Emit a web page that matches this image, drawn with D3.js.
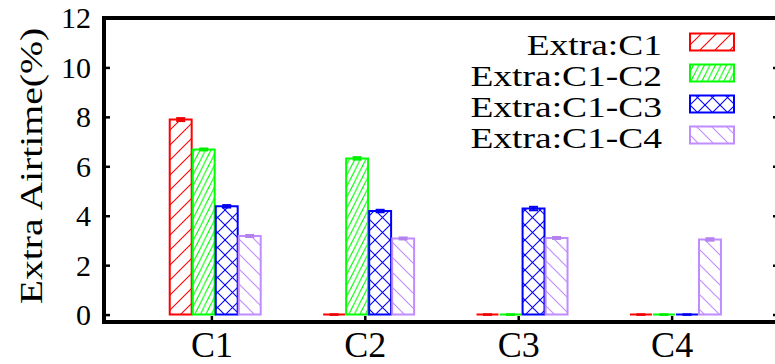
<!DOCTYPE html>
<html>
<head>
<meta charset="utf-8">
<script src="https://cdn.jsdelivr.net/npm/d3@7"></script>
<style>
  html, body { margin: 0; padding: 0; background: #fff; }
  svg { display: block; }
  text { font-family: "Liberation Serif", "Times New Roman", serif; fill: #000; }
</style>
</head>
<body>
<svg id="chart" width="775" height="364"></svg>
<script>
// Categories on the x axis and the four series (bar height + error half-width)
const categories = ["C1", "C2", "C3", "C4"];
const seriesNames = ["Extra:C1", "Extra:C1-C2", "Extra:C1-C3", "Extra:C1-C4"];
const extraC1     = [7.89, 0, 0, 0];
const extraC1C2   = [6.68, 6.32, 0, 0];
const extraC1C3   = [4.38, 4.19, 4.29, 0];
const extraC1C4   = [3.18, 3.08, 3.10, 3.04];
const errC1       = [0.06, 0.01, 0.01, 0.01];
const errC1C2     = [0.04, 0.05, 0.01, 0.01];
const errC1C3     = [0.05, 0.05, 0.07, 0.01];
const errC1C4     = [0.04, 0.04, 0.04, 0.05];
const yTicks      = [0, 2, 4, 6, 8, 10, 12];

const seriesValues = [extraC1, extraC1C2, extraC1C3, extraC1C4];
const seriesErrors = [errC1, errC1C2, errC1C3, errC1C4];
const colors = ["#ff0000", "#00ff00", "#0000ff", "#c08cff"];
const patternIds = ["pat-fwd", "pat-steep", "pat-cross", "pat-back"];

const svg = d3.select("#chart");
const frame = { left: 104, right: 779, top: 18, bottom: 322 };

const x = d3.scaleLinear().domain([-0.7, 3.7]).range([frame.left, frame.right]);
const y = d3.scaleLinear().domain([-0.3, 12]).range([frame.bottom, frame.top]);

// Hatch patterns used as bar fills
const defs = svg.append("defs");
function hatch(id, color, w, h, lines) {
  const p = defs.append("pattern").attr("id", id)
    .attr("patternUnits", "userSpaceOnUse").attr("width", w).attr("height", h);
  p.append("rect").attr("width", w).attr("height", h).attr("fill", "#fff");
  lines.forEach(l => p.append("line")
    .attr("x1", l[0]).attr("y1", l[1]).attr("x2", l[2]).attr("y2", l[3])
    .attr("stroke", color).attr("stroke-width", 1.1));
}
hatch("pat-fwd", colors[0], 15, 15, [[0, 15, 15, 0], [-1, 1, 1, -1], [14, 16, 16, 14]]);
hatch("pat-steep", colors[1], 5.5, 11, [[0, 11, 5.5, 0], [-0.5, 1, 0.5, -1], [5, 12, 6, 10]]);
hatch("pat-cross", colors[2], 15, 15, [[0, 15, 15, 0], [0, 0, 15, 15], [-1, 1, 1, -1], [14, 16, 16, 14], [-1, 14, 1, 16], [14, -1, 16, 1]]);
hatch("pat-back", colors[3], 15, 15, [[0, 0, 15, 15], [-1, 14, 1, 16], [14, -1, 16, 1]]);

// Bar geometry in data units: each series offset within its cluster
const barStep = 0.15;
const barWidth = 0.143;
const firstOffset = -0.2;

const bars = [];
seriesValues.forEach((vals, s) => {
  vals.forEach((v, i) => {
    bars.push({ s, i, v, e: seriesErrors[s][i], cx: i + firstOffset + s * barStep });
  });
});

const gBars = svg.append("g");
// hatched fill
gBars.selectAll("rect").data(bars).join("rect")
  .attr("x", d => x(d.cx - barWidth / 2))
  .attr("width", d => x(d.cx + barWidth / 2) - x(d.cx - barWidth / 2))
  .attr("y", d => y(d.v))
  .attr("height", d => y(0) - y(d.v))
  .attr("fill", d => `url(#${patternIds[d.s]})`);
// outline as a path so zero-height bars still show as a line
gBars.selectAll("path").data(bars).join("path")
  .attr("d", d => {
    const x0 = x(d.cx - barWidth / 2), x1 = x(d.cx + barWidth / 2);
    const yb = y(0), yt = y(d.v);
    return `M${x0},${yb}V${yt}H${x1}V${yb}Z`;
  })
  .attr("fill", "none")
  .attr("stroke", d => colors[d.s])
  .attr("stroke-width", 2);

// Error bars
const capHalf = 4.5;
const gErr = svg.append("g");
bars.forEach(d => {
  const cx = x(d.cx);
  const c = d3.color(colors[d.s]).darker(0.2);
  gErr.append("line").attr("x1", cx).attr("x2", cx)
    .attr("y1", y(d.v - d.e)).attr("y2", y(d.v + d.e))
    .attr("stroke", c).attr("stroke-width", 2);
  [d.v - d.e, d.v + d.e].forEach(t => gErr.append("line")
    .attr("x1", cx - capHalf).attr("x2", cx + capHalf)
    .attr("y1", y(t)).attr("y2", y(t))
    .attr("stroke", c).attr("stroke-width", 2));
});

// Axes: ticks pointing inward
const yAxis = svg.append("g").attr("transform", `translate(${frame.left},0)`)
  .call(d3.axisLeft(y).tickValues(yTicks).tickSize(-6).tickPadding(13).tickFormat(d3.format("d")));
yAxis.select(".domain").remove();
yAxis.selectAll(".tick line").attr("stroke", "#000").attr("stroke-width", 2.5);
yAxis.selectAll(".tick text").attr("font-size", 30).attr("font-family", "Liberation Serif").attr("dy", "0.33em");

const yAxisR = svg.append("g").attr("transform", `translate(${frame.right},0)`)
  .call(d3.axisRight(y).tickValues(yTicks).tickSize(-6).tickFormat(""));
yAxisR.select(".domain").remove();
yAxisR.selectAll(".tick line").attr("stroke", "#000").attr("stroke-width", 2.5);

const xAxis = svg.append("g").attr("transform", `translate(0,${frame.bottom})`)
  .call(d3.axisBottom(x).tickValues(d3.range(categories.length)).tickSize(-6).tickPadding(10)
    .tickFormat(i => categories[i]));
xAxis.select(".domain").remove();
xAxis.selectAll(".tick line").attr("stroke", "#000").attr("stroke-width", 2.5);
xAxis.selectAll(".tick text").attr("font-size", 36).attr("font-family", "Liberation Serif")
  .attr("y", 35).attr("dy", 0);

// Plot frame
svg.append("rect")
  .attr("x", frame.left).attr("y", frame.top)
  .attr("width", frame.right - frame.left).attr("height", frame.bottom - frame.top)
  .attr("fill", "none").attr("stroke", "#000").attr("stroke-width", 4);

// Y axis title (wide-set lettering)
svg.append("text")
  .attr("transform", `translate(42,${(frame.top + frame.bottom) / 2 - 4}) rotate(-90) scale(1.24,1)`)
  .attr("text-anchor", "middle").attr("font-size", 32)
  .text("Extra Airtime(%)");

// Legend (wide-set lettering, right aligned)
const legend = svg.append("g");
seriesNames.forEach((name, s) => {
  const base = 54.5 + s * 31;
  legend.append("text").attr("transform", `translate(662,${base}) scale(1.25,1)`)
    .attr("text-anchor", "end").attr("font-size", 30).text(name);
  legend.append("rect").attr("x", 690).attr("y", base - 21).attr("width", 44).attr("height", 17)
    .attr("fill", `url(#${patternIds[s]})`).attr("stroke", colors[s]).attr("stroke-width", 2);
});
</script>
</body>
</html>
